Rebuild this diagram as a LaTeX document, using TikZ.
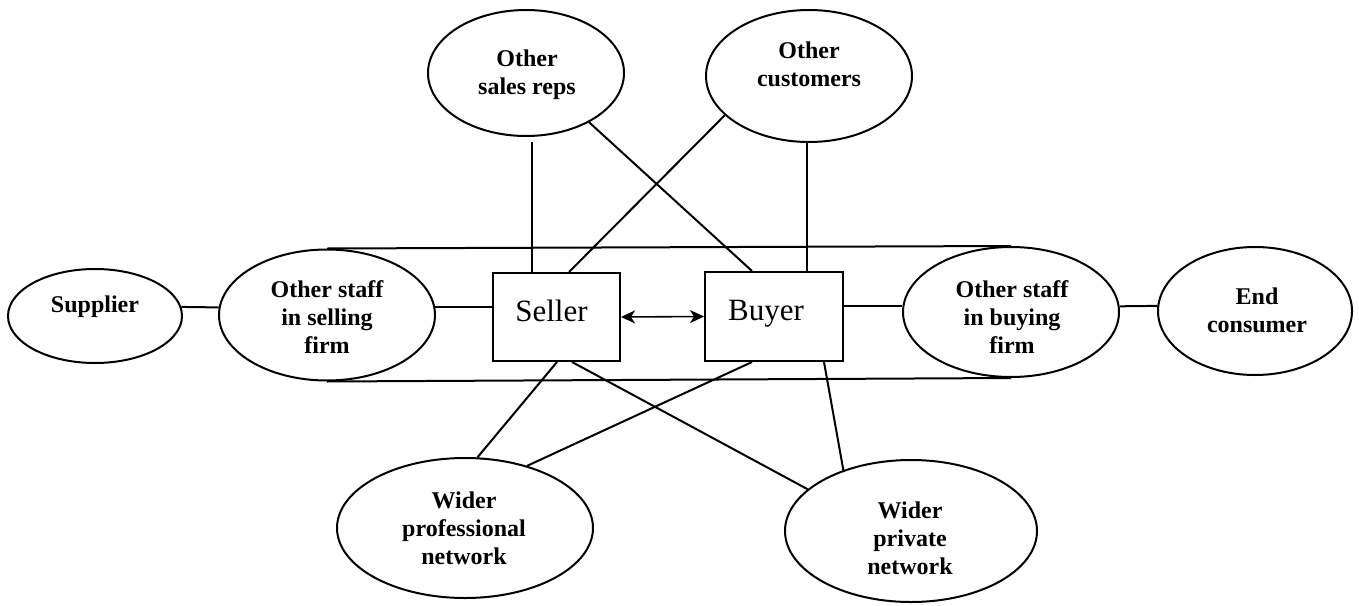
\documentclass[tikz,border=0pt]{standalone}
\usepackage{fontspec}
\setmainfont{Liberation Serif}
\usetikzlibrary{shapes.geometric,arrows.meta,calc}
\begin{document}
\begin{tikzpicture}[x=1pt,y=-1pt,line width=2pt,
  oval/.style={draw,ellipse,inner sep=0pt,fill=white},
  lbl/.style={align=center,inner sep=0pt,font=\fontsize{24}{28}\selectfont\bfseries},
  party/.style={draw,rectangle,inner sep=0pt,fill=white,text height=20pt,text depth=12pt,font=\fontsize{31}{36}\selectfont},
  mytip/.tip={Stealth[length=14pt,width=13pt,inset=4pt]}]
\useasboundingbox (0,0) rectangle (1359,605);
% ellipses
\node[oval,minimum width=174pt,minimum height=94pt]  (sup)  at (95,316)  {};
\node[oval,minimum width=216pt,minimum height=131pt] (sell) at (327,315) {};
\node[oval,minimum width=216pt,minimum height=130pt] (buy)  at (1011,312) {};
\node[oval,minimum width=194pt,minimum height=128pt] (end)  at (1255,311) {};
\node[oval,minimum width=196pt,minimum height=126pt] (sr)   at (526,73)  {};
\node[oval,minimum width=206pt,minimum height=132pt] (cu)   at (809,76)  {};
\node[oval,minimum width=256pt,minimum height=140pt] (pr)   at (465,528) {};
\node[oval,minimum width=252pt,minimum height=142pt] (pv)   at (911,531) {};
% labels
\node[lbl] (sup-t)  at (95,307)   {Supplier};
\node[lbl] (sell-t) at (327,317)  {Other staff\\in selling\\firm};
\node[lbl] (buy-t)  at (1012,317) {Other staff\\in buying\\firm};
\node[lbl] (end-t)  at (1257,310) {End\\consumer};
\node[lbl] (sr-t)   at (527,75)   {Other\\sales reps};
\node[lbl] (cu-t)   at (809,64)   {Other\\customers};
\node[lbl] (pr-t)   at (464,528)  {Wider\\professional\\network};
\node[lbl] (pv-t)   at (910,538)  {Wider\\private\\network};
% boxes
\node[party,minimum width=127pt,minimum height=88pt] (seller) at (556.5,317) {Seller\hspace*{10pt}};
\node[party,minimum width=138pt,minimum height=89pt] (buyer)  at (774,316.5) {Buyer\hspace*{16pt}};
% attachment points on boxes
\coordinate (s-t1) at ($(seller.north west)+(40,0)$);
\coordinate (s-t2) at ($(seller.north west)+(77,0)$);
\coordinate (b-t1) at ($(buyer.north west)+(48,0)$);
\coordinate (b-t2) at ($(buyer.north west)+(103,0)$);
\coordinate (s-b1) at ($(seller.south west)+(65,0)$);
\coordinate (s-b2) at ($(seller.south west)+(80,0)$);
\coordinate (b-b1) at ($(buyer.south west)+(48,0)$);
\coordinate (b-b2) at ($(buyer.south west)+(120,0)$);
% capsule
\draw (sell.north) -- (buy.north);
\draw (sell.south) -- (buy.south);
% horizontal chain
\draw (sup.6) -- (sell.176);
\draw (sell.4) -- (seller.west |- sell.4);
\draw (buyer.east |- buy.177) -- (buy.177);
\draw (buy.3) -- (end.177);
\draw[mytip-mytip,line width=1.6pt] (seller.east) -- (buyer.west);
% upper links
\draw[shorten >=5pt] (s-t1) -- (s-t1 |- sr.south);
\draw (sr.-38) -- (b-t1);
\draw (cu.205) -- (s-t2);
\draw (b-t2) -- (b-t2 |- cu.south);
% lower links
\draw (pr.80) -- (s-b1);
\draw (pr.45) -- (b-b1);
\draw (pv.158) -- (s-b2);
\draw (pv.138) -- (b-b2);
\end{tikzpicture}
\end{document}
